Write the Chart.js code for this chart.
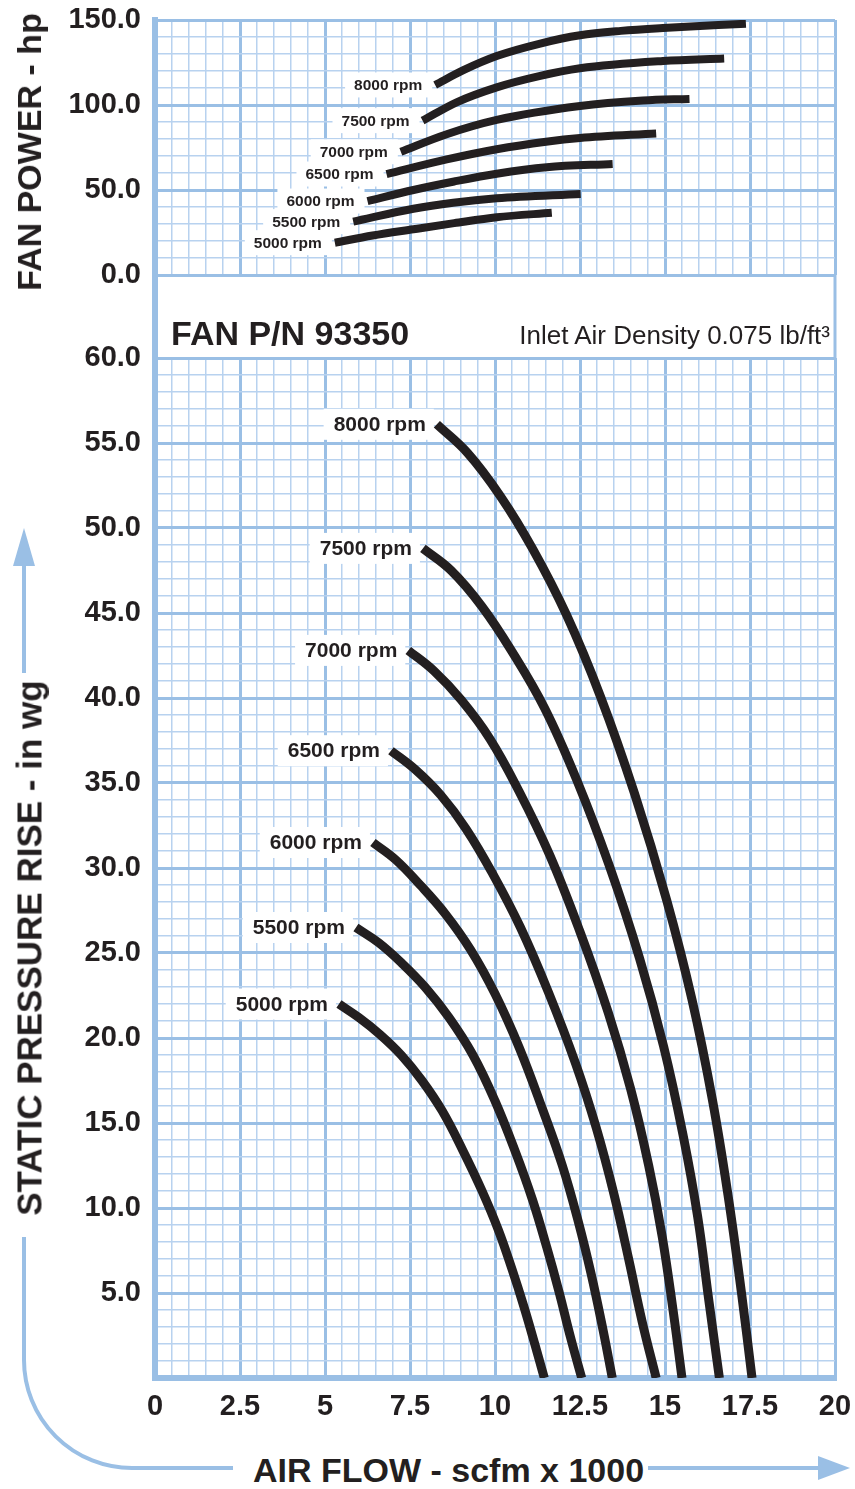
<!DOCTYPE html>
<html>
<head>
<meta charset="utf-8">
<title>Fan P/N 93350</title>
<script src="https://cdn.jsdelivr.net/npm/chart.js@4.4.1/dist/chart.umd.min.js"></script>
<style>
  html, body { margin: 0; padding: 0; background: #fff; }
  body { width: 855px; height: 1489px; position: relative; overflow: hidden;
         font-family: "Liberation Sans", Arial, Helvetica, sans-serif; color: #231f20; }
  canvas, svg, .txt { position: absolute; }
  #powerChart { left: 0; top: 0; }
  #pressureChart { left: 0; top: 338px; }
  .txt { white-space: nowrap; font-weight: bold; line-height: 1; }
  .rot { transform: translate(-50%, -50%) rotate(-90deg); }
</style>
</head>
<body>
<svg width="855" height="1489" style="left:0;top:0">
  <g stroke="#9abfe5" fill="none">
    <line x1="155" y1="274" x2="155" y2="359" stroke-width="6"/>
    <line x1="835" y1="274" x2="835" y2="359" stroke-width="3"/>
    <line x1="24" y1="560" x2="24" y2="673" stroke-width="4"/>
    <path d="M24 1237 V1360 A108 108 0 0 0 132 1468 H233" stroke-width="4"/>
    <line x1="648" y1="1468" x2="822" y2="1468" stroke-width="4"/>
  </g>
  <g fill="#9abfe5">
    <polygon points="24,528 13,566 35,566"/>
    <polygon points="818,1456 850,1468 818,1480"/>
  </g>
</svg>
<canvas id="powerChart" width="855" height="290"></canvas>
<canvas id="pressureChart" width="855" height="1100"></canvas>
<div class="txt rot" style="left:29px; top:152px; font-size:34px;">FAN POWER - hp</div>
<div class="txt rot" style="left:29px; top:948px; font-size:35px;">STATIC PRESSURE RISE - in wg</div>
<div class="txt" style="left:253px; top:1470px; font-size:34px; transform:translateY(-50%);">AIR FLOW - scfm x 1000</div>
<div class="txt" style="left:171px; top:333px; font-size:34px; transform:translateY(-50%);">FAN P/N 93350</div>
<div class="txt" style="right:25px; top:335px; font-size:26px; font-weight:normal; transform:translateY(-50%);">Inlet Air Density 0.075 lb/ft³</div>
<script>
// tick labels
const flowTickLabels = ['0', '2.5', '5', '7.5', '10', '12.5', '15', '17.5', '20'];
const powerTickLabels = ['0.0', '50.0', '100.0', '150.0'];
const pressureTickLabels = ['', '5.0', '10.0', '15.0', '20.0', '25.0', '30.0', '35.0', '40.0', '45.0', '50.0', '55.0', '60.0'];
const rpmLabels = ['5000 rpm', '5500 rpm', '6000 rpm', '6500 rpm', '7000 rpm', '7500 rpm', '8000 rpm'];

// fan power (hp) vs air flow (scfm x 1000)
const power5000 = [[5.29, 19.0], [6.4, 23.2], [7.6, 26.9], [8.8, 30.5], [10.05, 34.0], [11.67, 36.6]];
const power5500 = [[5.83, 31.4], [7.6, 39.0], [8.77, 42.5], [10.05, 45.1], [12.52, 47.6]];
const power6000 = [[6.25, 43.5], [7.6, 50.0], [8.8, 55.0], [10.05, 59.6], [11.52, 63.4], [13.46, 65.3]];
const power6500 = [[6.81, 59.4], [8.58, 68.0], [10.05, 74.0], [11.5, 78.4], [12.5, 80.6], [14.74, 83.3]];
const power7000 = [[7.23, 72.5], [8.58, 82.8], [10.05, 91.2], [12.5, 99.4], [14.35, 102.6], [15.72, 103.6]];
const power7500 = [[7.87, 90.8], [8.87, 101.6], [10.05, 110.4], [11.3, 117.0], [12.5, 121.6], [14.94, 125.9], [16.74, 127.4]];
const power8000 = [[8.24, 111.8], [9.07, 120.5], [10.05, 128.8], [11.3, 136.0], [12.5, 141.0], [13.7, 143.6], [14.94, 145.3], [17.38, 147.8]];

// static pressure rise (in wg) vs air flow (scfm x 1000)
const pressure5000 = [[5.41, 22.0], [6.0, 21.2], [6.62, 20.2], [7.24, 19.0], [7.85, 17.5], [8.45, 15.7], [9.05, 13.4], [9.62, 11.0], [10.1, 8.7], [10.5, 6.4], [10.85, 4.2], [11.17, 2.0], [11.45, 0]];
const pressure5500 = [[5.91, 26.5], [6.58, 25.6], [7.26, 24.4], [7.94, 23.0], [8.65, 21.2], [9.35, 19.0], [10.0, 16.3], [10.6, 13.3], [11.1, 10.5], [11.52, 7.7], [11.88, 5.1], [12.22, 2.4], [12.55, 0]];
const pressure6000 = [[6.41, 31.5], [7.07, 30.5], [7.8, 29.0], [8.54, 27.3], [9.28, 25.2], [10.0, 22.6], [10.72, 19.4], [11.4, 15.8], [11.98, 12.5], [12.45, 9.2], [12.83, 6.1], [13.18, 2.8], [13.45, 0]];
const pressure6500 = [[6.94, 36.9], [7.65, 35.8], [8.4, 34.3], [9.15, 32.3], [9.95, 29.6], [10.75, 26.5], [11.57, 22.7], [12.37, 18.5], [12.98, 14.7], [13.5, 10.8], [13.92, 7.1], [14.33, 3.3], [14.74, 0]];
const pressure7000 = [[7.45, 42.8], [8.2, 41.6], [9.0, 39.9], [9.85, 37.6], [10.71, 34.5], [11.6, 30.8], [12.49, 26.3], [13.33, 21.5], [13.99, 17.0], [14.52, 12.5], [14.92, 8.3], [15.25, 3.8], [15.5, 0]];
const pressure7500 = [[7.88, 48.8], [8.71, 47.5], [9.61, 45.4], [10.51, 42.7], [11.46, 39.4], [12.4, 35.2], [13.35, 30.2], [14.25, 24.7], [14.96, 19.5], [15.53, 14.3], [15.96, 9.5], [16.3, 4.4], [16.6, 0]];
const pressure8000 = [[8.29, 56.1], [9.2, 54.4], [10.15, 51.9], [11.1, 48.8], [12.1, 44.9], [13.1, 40.1], [14.1, 34.4], [15.05, 28.1], [15.8, 22.2], [16.4, 16.3], [16.85, 10.8], [17.25, 5.0], [17.56, 0]];

const powerSeries = [power5000, power5500, power6000, power6500, power7000, power7500, power8000];
const pressureSeries = [pressure5000, pressure5500, pressure6000, pressure6500, pressure7000, pressure7500, pressure8000];

const ink = '#231f20';
const majorColor = '#9abfe5';
const minorColor = '#b8d2ef';
const fontFamily = '"Liberation Sans", Arial, Helvetica, sans-serif';

const isMajor = (v, step) => Math.abs(v / step - Math.round(v / step)) < 1e-6;
const toXY = pts => pts.map(p => ({ x: p[0], y: p[1] }));

function grid(step) {
    return {
        color: c => isMajor(c.tick.value, step) ? majorColor : minorColor,
        lineWidth: c => isMajor(c.tick.value, step) ? 3 : 1.5,
        drawTicks: false
    };
}

// keep the plot area where the layout padding puts it
function fixWidth(w) {
    return s => { s.width = w; s.paddingTop = 0; s.paddingBottom = 0; };
}
function fixHeight(h) {
    return s => { s.height = h; s.paddingLeft = 0; s.paddingRight = 0; };
}

// white boxed "xxxx rpm" labels to the left of each curve start
const rpmLabelPlugin = {
    id: 'rpmLabels',
    beforeDatasetsDraw(chart, args, opts) {
        const ctx = chart.ctx;
        ctx.save();
        ctx.font = 'bold ' + opts.size + 'px ' + fontFamily;
        ctx.fillStyle = '#fff';
        chart.data.datasets.forEach((ds, i) => {
            const p = chart.getDatasetMeta(i).data[0];
            const w = ctx.measureText(ds.label).width;
            const right = p.x - opts.gap;
            ctx.fillRect(right - w - opts.padX, p.y - opts.boxH / 2, w + opts.padX + opts.gap - 3, opts.boxH);
        });
        ctx.restore();
    },
    afterDatasetsDraw(chart, args, opts) {
        const ctx = chart.ctx;
        ctx.save();
        ctx.font = 'bold ' + opts.size + 'px ' + fontFamily;
        ctx.fillStyle = ink;
        ctx.textAlign = 'right';
        ctx.textBaseline = 'middle';
        chart.data.datasets.forEach((ds, i) => {
            const p = chart.getDatasetMeta(i).data[0];
            ctx.fillText(ds.label, p.x - opts.gap, p.y + 1);
        });
        ctx.restore();
    }
};

function curveSets(series, width, mode) {
    return series.map((pts, i) => ({
        label: rpmLabels[i],
        data: toXY(pts),
        borderColor: ink,
        borderWidth: width,
        borderCapStyle: 'butt',
        pointRadius: 0,
        fill: false,
        tension: 0.4,
        cubicInterpolationMode: mode
    }));
}

const tickFont = { family: fontFamily, size: 29, weight: 'bold' };

// Fan power panel
new Chart(document.getElementById('powerChart'), {
    type: 'line',
    data: { datasets: curveSets(powerSeries, 8, 'monotone') },
    plugins: [rpmLabelPlugin],
    options: {
        responsive: false,
        animation: false,
        layout: { padding: { top: 20, right: 20, bottom: 15, left: 0 } },
        plugins: {
            legend: { display: false },
            tooltip: { enabled: false },
            rpmLabels: { size: 15.5, gap: 13, padX: 9, boxH: 25 }
        },
        scales: {
            x: {
                type: 'linear', min: 0, max: 20,
                ticks: { stepSize: 0.5, display: false, autoSkip: false },
                grid: grid(2.5),
                border: { display: false },
                afterFit: fixHeight(0)
            },
            y: {
                type: 'linear', min: 0, max: 150,
                ticks: {
                    stepSize: 10, autoSkip: false, padding: 14, color: ink, font: tickFont,
                    callback: v => isMajor(v, 50) ? powerTickLabels[Math.round(v / 50)] : ''
                },
                grid: grid(50),
                border: { color: majorColor, width: 6 },
                afterFit: fixWidth(155)
            }
        }
    }
});

// Static pressure panel
new Chart(document.getElementById('pressureChart'), {
    type: 'line',
    data: { datasets: curveSets(pressureSeries, 9, 'default') },
    plugins: [rpmLabelPlugin],
    options: {
        responsive: false,
        animation: false,
        layout: { padding: { top: 20, right: 20, bottom: 0, left: 0 } },
        plugins: {
            legend: { display: false },
            tooltip: { enabled: false },
            rpmLabels: { size: 21, gap: 11, padX: 10, boxH: 31 }
        },
        scales: {
            x: {
                type: 'linear', min: 0, max: 20,
                ticks: {
                    stepSize: 0.5, autoSkip: false, maxRotation: 0, padding: 12, color: ink, font: tickFont,
                    callback: v => isMajor(v, 2.5) ? flowTickLabels[Math.round(v / 2.5)] : ''
                },
                grid: grid(2.5),
                border: { color: majorColor, width: 6 },
                afterFit: fixHeight(60)
            },
            y: {
                type: 'linear', min: 0, max: 60,
                ticks: {
                    stepSize: 1, autoSkip: false, padding: 14, color: ink, font: tickFont,
                    callback: v => isMajor(v, 5) ? pressureTickLabels[Math.round(v / 5)] : ''
                },
                grid: grid(5),
                border: { color: majorColor, width: 6 },
                afterFit: fixWidth(155)
            }
        }
    }
});
</script>
</body>
</html>
